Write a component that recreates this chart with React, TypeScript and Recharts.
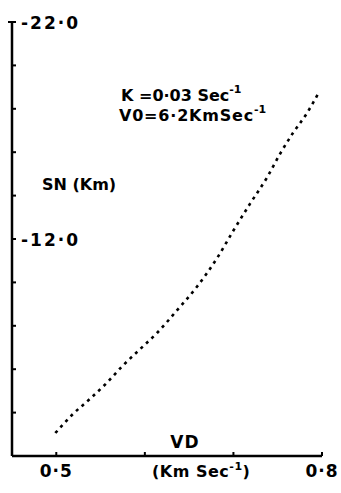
import { Line, LineChart, XAxis, YAxis } from "recharts";

// VD (Km Sec^-1) against SN (Km)
const VD = [0.499, 0.519, 0.538, 0.557, 0.575, 0.595, 0.614, 0.636, 0.659, 0.682, 0.700, 0.719, 0.738, 0.753, 0.767, 0.783, 0.796];
const SN = [-3.06, -3.94, -4.63, -5.37, -6.16, -6.94, -7.68, -8.70, -9.81, -11.15, -12.39, -13.64, -14.84, -15.95, -16.87, -17.80, -18.72];

const X_TICKS = [0.5, 0.6, 0.7, 0.8];
const X_LABELS: Record<string, string> = { "0.5": "0·5", "0.8": "0·8" };
const Y_TICKS = [-22, -20, -18, -16, -14, -12, -10, -8, -6, -4, -2];
const Y_LABELS: Record<string, string> = { "-22": "-22·0", "-12": "-12·0" };

const INK = "#000";
const FONT = "'DejaVu Sans', sans-serif";

const data = VD.map((v, i) => ({ vd: v, sn: SN[i] }));

function XTick({ x, y, payload }: any) {
  const label = X_LABELS[String(payload.value)];
  return (
    <g>
      <line x1={x} x2={x} y1={y} y2={y - 4} stroke={INK} strokeWidth={2} />
      {label && (
        <text x={x} y={y + 21} textAnchor="middle" fontFamily={FONT} fontWeight="bold" fontSize={17} fill={INK} letterSpacing={1}>
          {label}
        </text>
      )}
    </g>
  );
}

function YTick({ x, y, payload }: any) {
  const label = Y_LABELS[String(payload.value)];
  const top = payload.value === -22;
  return (
    <g>
      <line x1={top ? x - 4 : x} x2={x + 4} y1={y} y2={y} stroke={INK} strokeWidth={2} />
      {label && (
        <text x={x + 9} y={y + 7} fontFamily={FONT} fontWeight="bold" fontSize={17} fill={INK} letterSpacing={2}>
          {label}
        </text>
      )}
    </g>
  );
}

export default function App() {
  return (
    <div style={{ position: "absolute", left: 0, top: 0, background: "#fff" }}>
      <LineChart width={341} height={493} data={data} margin={{ top: 22, right: 19, bottom: 7, left: 0 }}>
        <XAxis
          dataKey="vd"
          type="number"
          domain={[0.45, 0.8]}
          ticks={X_TICKS}
          height={30}
          tickSize={0}
          tickMargin={0}
          tick={<XTick />}
          axisLine={{ stroke: INK, strokeWidth: 2.5 }}
          allowDataOverflow
        />
        <YAxis
          dataKey="sn"
          type="number"
          domain={[-22, -2]}
          reversed
          ticks={Y_TICKS}
          width={12}
          tickSize={0}
          tickMargin={0}
          tick={<YTick />}
          axisLine={{ stroke: INK, strokeWidth: 2.5 }}
          allowDataOverflow
        />
        <Line
          type="monotone"
          dataKey="sn"
          stroke={INK}
          strokeWidth={2.6}
          strokeDasharray="3 4.5"
          dot={false}
          isAnimationActive={false}
        />
        <text x={42} y={190} fontFamily={FONT} fontWeight="bold" fontSize={16} fill={INK}>
          SN (Km)
        </text>
        <text x={185} y={448} textAnchor="middle" fontFamily={FONT} fontWeight="bold" fontSize={17} fill={INK} letterSpacing={1}>
          VD
        </text>
        <text x={152} y={477} fontFamily={FONT} fontWeight="bold" fontSize={16} fill={INK} letterSpacing={0.5}>
          (Km Sec<tspan dy={-7} fontSize={11}>-1</tspan><tspan dy={7}>)</tspan>
        </text>
        <text x={121} y={101} fontFamily={FONT} fontWeight="bold" fontSize={16} fill={INK}>
          K =0·03 Sec<tspan dy={-8} fontSize={11}>-1</tspan>
        </text>
        <text x={119} y={121} fontFamily={FONT} fontWeight="bold" fontSize={16} fill={INK} letterSpacing={0.8}>
          V0=6·2KmSec<tspan dy={-8} fontSize={11} letterSpacing={0}>-1</tspan>
        </text>
      </LineChart>
    </div>
  );
}
